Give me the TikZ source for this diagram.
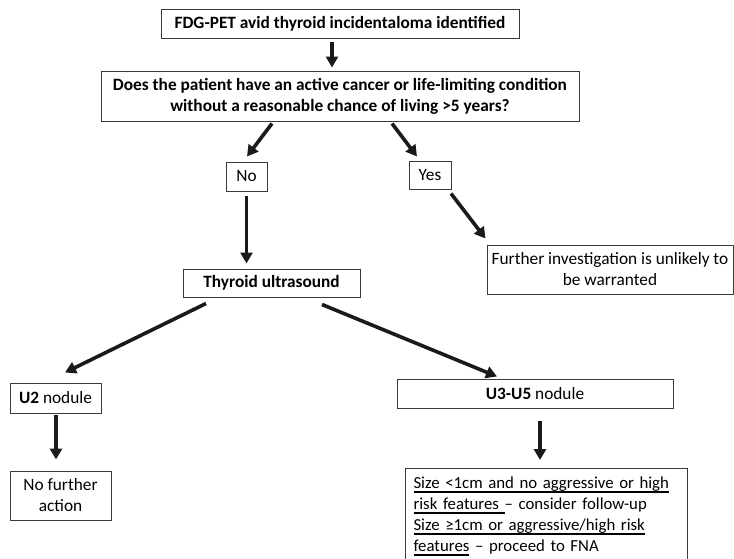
\documentclass[tikz,border=0pt]{standalone}
\usepackage{fontspec}
\setmainfont{Carlito}
\usetikzlibrary{arrows.meta,calc}
\definecolor{boxc}{HTML}{3A3A3A}
\definecolor{arrc}{HTML}{1A1A1A}
\newcommand\myfs{\fontsize{17.3}{21}\selectfont}
\newcommand\myfsb{\fontsize{16.8}{21}\selectfont}
\newcommand\myul[1]{\leavevmode\setbox0\hbox{#1}\rlap{\rule[-4.6pt]{\wd0}{1.3pt}}\box0\relax}
\begin{document}
\begin{tikzpicture}[x=1pt,y=-1pt,
  box/.style={draw=boxc, line width=1pt, inner sep=0pt, align=center, font=\myfs},
  arr/.style={draw=arrc, line width=3.6pt, -{Triangle[length=11pt,width=12pt]}}
]
\useasboundingbox (0,0) rectangle (734,558);
\clip (0,0) rectangle (734,558);

\node[box, minimum width=358pt, minimum height=29pt] (top) at (340,23.5)
  {\bfseries FDG-PET avid thyroid incidentaloma identified};
\node[box, minimum width=478pt, minimum height=50pt] (q) at (340,96)
  {\bfseries Does the patient have an active cancer or life-limiting condition\\
   \bfseries without a reasonable chance of living >5 years?};
\node[box, minimum width=41pt, minimum height=29pt] (no) at (246.5,176.5) {No};
\node[box, minimum width=42pt, minimum height=28pt] (yes) at (430,175) {Yes};
\node[box, minimum width=246pt, minimum height=49pt] (fur) at (610,269.5)
  {Further investigation is unlikely to\\be warranted};
\node[box, minimum width=177pt, minimum height=28pt] (tu) at (271.5,283)
  {\bfseries Thyroid ultrasound};
\node[box, minimum width=91pt, minimum height=30pt] (u2) at (55.5,398)
  {\textbf{U2} nodule};
\node[box, minimum width=276pt, minimum height=29pt] (u35) at (535,393.5)
  {\textbf{U3-U5} nodule};
\node[box, minimum width=101pt, minimum height=49pt] (nfa) at (60.5,495.5)
  {No further\\action};
\node[box, font=\myfsb, anchor=north west, text width=266pt, align=left, inner xsep=8pt, inner ysep=8pt] (size) at (405,468)
  {\myul{Size <1cm and no aggressive or high}\\
   \myul{risk features\ }– consider follow-up\\
   \myul{Size ≥1cm or aggressive/high risk}\\
   \myul{features} – proceed to FNA\\[2pt]\mbox{}};

\draw[arr] ($(top.south)+(-8,3)$) -- ($(q.north)+(-8,-3)$);
\draw[arr] ($(q.south)+(-68,2)$) -- ($(no.north)+(0.5,-5)$);
\draw[arr] ($(q.south)+(52,2)$) -- ($(yes.north)+(-13,-4)$);
\draw[arr] ($(no.south)+(0,4)$) -- ($(tu.north)+(-25,-5)$);
\draw[arr] ($(yes.south)+(21,4)$) -- ($(fur.north west)+(-1,-6)$);
\draw[arr] ($(tu.south)+(-65.5,6)$) -- ($(u2.north)+(9.5,-10)$);
\draw[arr] ($(tu.south)+(50.5,7)$) -- ($(u35.north)+(-38,-2)$);
\draw[arr] ($(u2.south)+(0.5,1)$) -- ($(nfa.north)+(-4.5,-11)$);
\draw[arr] ($(u35.south)+(5,12)$) -- ($(size.north west)+(135,-8)$);
\end{tikzpicture}
\end{document}
